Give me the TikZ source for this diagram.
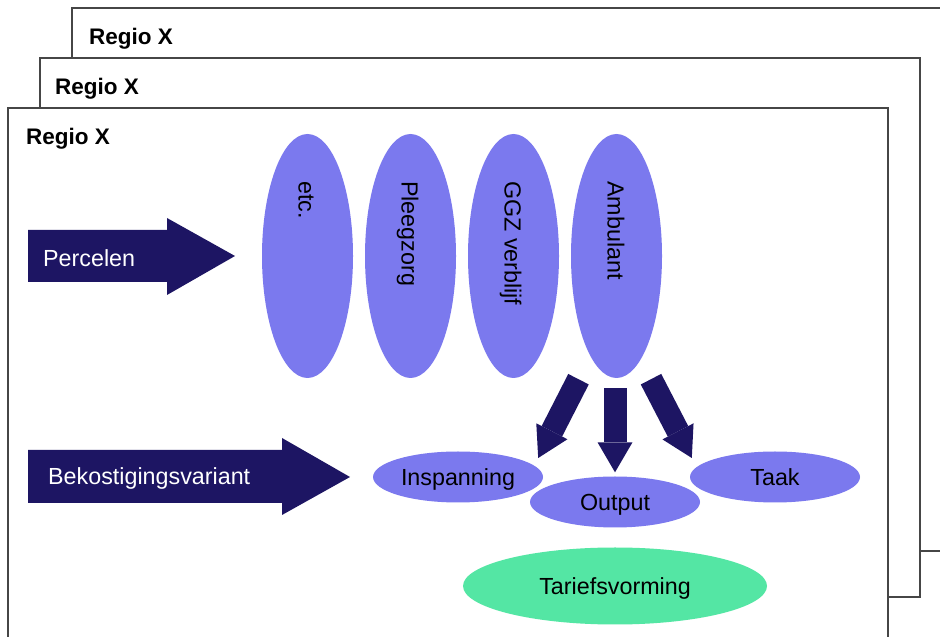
\documentclass[tikz,border=0pt]{standalone}
\usepackage{fontspec}
\setmainfont{Liberation Sans}
\usepackage{xcolor}
\definecolor{Navy}{RGB}{29,21,99}
\definecolor{Lilac}{RGB}{123,121,238}
\definecolor{Mint}{RGB}{84,230,164}
\definecolor{Frame}{RGB}{70,70,70}
\definecolor{White}{RGB}{255,255,255}
\definecolor{Black}{RGB}{0,0,0}
\usepackage{tikz}
\usetikzlibrary{calc, arrows.meta, shapes.geometric}

\begin{document}
\begin{tikzpicture}[x=1pt, y=1pt,
		region/.style={fill=White, draw=Frame, line width=1.3pt},
		regiolabel/.style={anchor=base west, inner sep=0pt, text=Black, font=\fontsize{22.5}{27}\selectfont\bfseries},
		perceel/.style={ellipse, fill=Lilac, minimum width=91pt, minimum height=244pt, inner sep=0pt},
		perceeltekst/.style={rotate=-90, anchor=base west, inner sep=0pt, text=Black, font=\fontsize{23.3}{28}\selectfont},
		variant/.style={ellipse, fill=Lilac, minimum width=170pt, minimum height=51pt, inner sep=0pt, text height=16.5pt, text depth=0pt, text=Black, font=\fontsize{23.3}{28}\selectfont},
		arrowtext/.style={anchor=base west, inner sep=0pt, text=White, font=\fontsize{23.3}{28}\selectfont},
		blockarrow/.style={draw=Navy, line width=23pt, -{Triangle[width=35pt, length=30pt, line width=0pt]}}]

		\clip (0,0) rectangle (940,637);

		% Regions
		\draw[region] (72,86) rectangle (960,629);
		\node[regiolabel] (regio3) at (89,592) {Regio X};
		\draw[region] (40,40) rectangle (920,579);
		\node[regiolabel] (regio2) at (55,542) {Regio X};
		\draw[region] (8,-20) rectangle (888,529);
		\node[regiolabel] (regio1) at (26,492) {Regio X};

		% Percelen
		\node[perceel] (etc)   at (307.5,381) {};
		\node[perceel] (pleeg) at (410.5,381) {};
		\node[perceel] (ggz)   at (513.5,381) {};
		\node[perceel] (amb)   at (616.5,381) {};
		\node[perceeltekst] (etc-txt)   at (298.5,456) {etc.};
		\node[perceeltekst] (pleeg-txt) at (401.5,456) {Pleegzorg};
		\node[perceeltekst] (ggz-txt)   at (504.5,456) {GGZ verblijf};
		\node[perceeltekst] (amb-txt)   at (607.5,456) {Ambulant};

		% Big arrows
		\fill[Navy] (28,355) -- (167,355) -- (167,342) -- (235,381) -- (167,419) -- (167,407) -- (28,407) -- cycle;
		\node[arrowtext] (percelen) at (43,370) {Percelen};
		\fill[Navy] (28,134) -- (282,134) -- (282,122) -- (350,160) -- (282,199) -- (282,187) -- (28,187) -- cycle;
		\node[arrowtext] (bekostiging) at (48,152) {Bekostigingsvariant};

		% Bekostigingsvarianten
		\node[variant] (insp)   at (458,160) {Inspanning};
		\node[variant] (output) at (615,135) {Output};
		\node[variant] (taak)   at (775,160) {Taak};
		\node[variant, fill=Mint, minimum width=304pt, minimum height=77pt] (tarief) at (615,51) {Tariefsvorming};

		% Arrows down
		\draw[blockarrow] ($(output.north |- amb.south)+(0,-10)$) -- ($(output.north)+(0,4)$);
		\draw[blockarrow] ($(output.north |- amb.south)+(-36.5,-1)$) -- ($(insp.east)+(-5,19)$);
		\draw[blockarrow] ($(output.north |- amb.south)+(36,-1)$) -- ($(taak.west)+(2,19)$);

	\end{tikzpicture}
\end{document}
